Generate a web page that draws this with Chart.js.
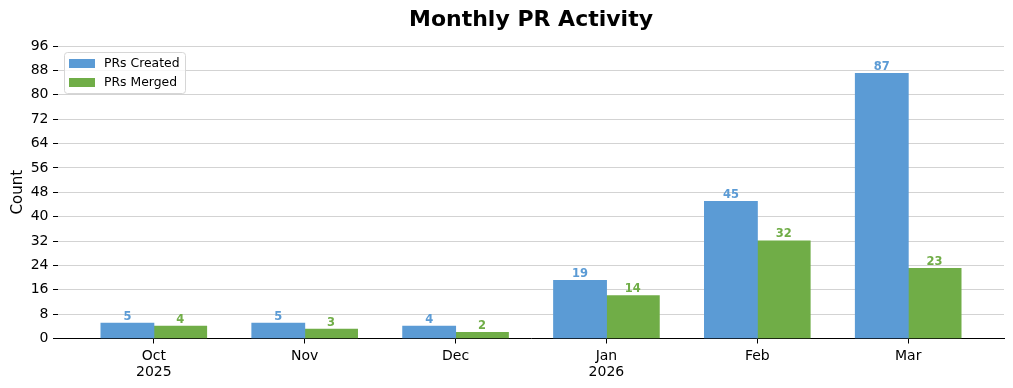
<!DOCTYPE html>
<html>
<head>
<meta charset="utf-8">
<script src="https://cdn.jsdelivr.net/npm/chart.js@4/dist/chart.umd.min.js"></script>
<style>
  html, body { margin: 0; padding: 0; background: #fff; }
  #wrap { width: 1013px; height: 388px; }
</style>
</head>
<body>
<div id="wrap"><canvas id="prChart" width="1013" height="388"></canvas></div>
<script>
const months = [["Oct", "2025"], ["Nov"], ["Dec"], ["Jan", "2026"], ["Feb"], ["Mar"]];
const prsCreated = [5, 5, 4, 19, 45, 87];
const prsMerged = [4, 3, 2, 14, 32, 23];
const yTicks = [0, 8, 16, 24, 32, 40, 48, 56, 64, 72, 80, 88, 96];

const blue = "#5b9bd5";
const green = "#70ad47";

Chart.defaults.font.family = "'DejaVu Sans', sans-serif";
Chart.defaults.color = "#000";

// value labels above each bar
const barLabels = {
  id: "barLabels",
  afterDatasetsDraw(chart) {
    const ctx = chart.ctx;
    ctx.save();
    ctx.font = "bold 11.5px 'DejaVu Sans'";
    ctx.textAlign = "center";
    ctx.textBaseline = "bottom";
    chart.data.datasets.forEach((ds, i) => {
      ctx.fillStyle = ds.backgroundColor;
      chart.getDatasetMeta(i).data.forEach((bar, j) => {
        ctx.fillText(String(ds.data[j].y), bar.x, bar.y - 1);
      });
    });
    ctx.restore();
  },
};

// matplotlib-like legend box in upper left of plot area
const boxLegend = {
  id: "boxLegend",
  afterDraw(chart) {
    const ctx = chart.ctx;
    const a = chart.chartArea;
    const x = a.left + 6, y = a.top + 6, w = 121, h = 41;
    ctx.save();
    ctx.fillStyle = "rgba(255,255,255,0.8)";
    ctx.strokeStyle = "#d6d6d6";
    ctx.lineWidth = 1;
    ctx.beginPath();
    ctx.roundRect(x + 0.5, y + 0.5, w, h, 3);
    ctx.fill();
    ctx.stroke();
    ctx.font = "12.4px 'DejaVu Sans'";
    ctx.textBaseline = "middle";
    chart.data.datasets.forEach((ds, i) => {
      const rowY = y + 11 + i * 19;
      ctx.fillStyle = ds.backgroundColor;
      ctx.fillRect(x + 5, rowY - 4, 26, 9);
      ctx.fillStyle = "#000";
      ctx.fillText(ds.label, x + 40, rowY + 1);
    });
    ctx.restore();
  },
};

new Chart(document.getElementById("prChart"), {
  type: "bar",
  data: {
    datasets: [
      {
        label: "PRs Created",
        data: prsCreated.map((v, i) => ({ x: i, y: v })),
        backgroundColor: blue,
        inflateAmount: 0.5,
      },
      {
        label: "PRs Merged",
        data: prsMerged.map((v, i) => ({ x: i, y: v })),
        backgroundColor: green,
        inflateAmount: 0.5,
      },
    ],
  },
  options: {
    responsive: false,
    animation: false,
    categoryPercentage: 0.7,
    barPercentage: 1.0,
    layout: { padding: { left: 0, right: 9, top: 0, bottom: 0 } },
    plugins: {
      legend: { display: false },
      tooltip: { enabled: false },
      title: {
        display: true,
        text: "Monthly PR Activity",
        fullSize: false,
        font: { size: 22, weight: "bold" },
        padding: { top: 7, bottom: 12.6 },
        color: "#000",
      },
    },
    scales: {
      x: {
        type: "linear",
        offset: false,
        min: -0.635,
        max: 5.635,
        afterBuildTicks(scale) {
          scale.ticks = months.map((m, i) => ({ value: i }));
        },
        afterFit(scale) {
          scale.height = 49.5;
        },
        ticks: {
          autoSkip: false,
          maxRotation: 0,
          padding: 5,
          font: { size: 14, lineHeight: 1.15 },
          callback: (v) => months[v],
        },
        grid: {
          offset: false,
          drawOnChartArea: false,
          drawTicks: true,
          tickLength: 5,
          tickColor: "#000",
        },
        border: { display: true, color: "#000", width: 1 },
      },
      y: {
        min: 0,
        max: 96,
        afterBuildTicks(scale) {
          scale.ticks = yTicks.map((v) => ({ value: v }));
        },
        afterFit(scale) {
          scale.width = 58;
        },
        ticks: { padding: 4.5, font: { size: 14 } },
        grid: {
          color: "#d3d3d3",
          drawTicks: true,
          tickLength: 5,
          tickColor: "#000",
        },
        border: { display: false },
        title: {
          display: true,
          text: "Count",
          font: { size: 15 },
          padding: { top: 9, bottom: 0 },
        },
      },
    },
  },
  plugins: [barLabels, boxLegend],
});
</script>
</body>
</html>
